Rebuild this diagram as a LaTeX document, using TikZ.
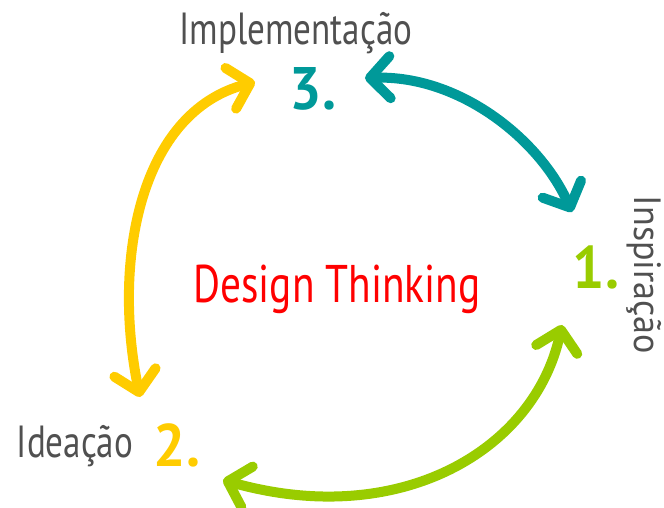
\documentclass[tikz,border=0pt]{standalone}
\usepackage{fontspec}
\setmainfont[FakeStretch=0.78]{PT Sans}
\newfontfamily\inspfont[FakeStretch=0.95]{PT Sans}
\usetikzlibrary{arrows.meta}

\definecolor{dtgray}{RGB}{80,80,80}
\definecolor{dtred}{RGB}{255,0,0}
\definecolor{dtteal}{RGB}{0,153,153}
\definecolor{dtgreen}{RGB}{153,204,0}
\definecolor{dtyellow}{RGB}{255,204,0}

\tikzset{
  phase/.style={text=dtgray, inner sep=0pt, anchor=base, font=\fontsize{45}{45}\selectfont},
  stepnum/.style={inner sep=0pt, anchor=base, font=\inspfont\fontsize{60}{60}\selectfont\bfseries},
  cyclearrow/.style={line width=10pt, line cap=round,
    {Straight Barb[length=20pt,width=42pt,round]}-{Straight Barb[length=20pt,width=42pt,round]}}
}

\begin{document}
\begin{tikzpicture}[x=1pt,y=-1pt]
\useasboundingbox (0,0) rectangle (664,508);

% titles of the three phases
\node [phase] (impl) at (296,45) {Implementação};
\node [phase, rotate=-90, font=\inspfont\fontsize{38}{38}\selectfont] (insp) at (634,275) {Inspiração};
\node [phase] (idea) at (75,457) {Ideação};

% numbers
\node [stepnum, text=dtteal] (three) at (313,110) {3.};
\node [stepnum, text=dtgreen] (one) at (596,288) {1.};
\node [stepnum, text=dtyellow] (two) at (177,466) {2.};

% centre
\node [inner sep=0pt, anchor=base, text=dtred, font=\fontsize{53}{53}\selectfont] (dt) at (337,302) {Design Thinking};

% arrow ends
\coordinate (t3) at (365,78);
\coordinate (t1) at (572,212);
\coordinate (g1) at (562,325);
\coordinate (g2) at (223,480);
\coordinate (y2) at (140,397);
\coordinate (y3) at (255,82);

% the three arrows
\draw [cyclearrow, dtteal] (t3) .. controls (460,75) and (540,140) .. (t1);
\draw [cyclearrow, dtgreen] (g1) .. controls (535,450) and (400,530) .. (g2);
\draw [cyclearrow, dtyellow] (y2) .. controls (112,260) and (140,112) .. (y3);

\end{tikzpicture}
\end{document}
